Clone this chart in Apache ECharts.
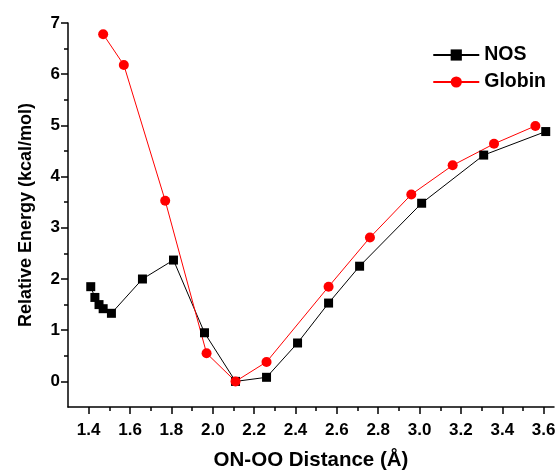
<!DOCTYPE html>
<html>
<head>
<meta charset="utf-8">
<script src="https://cdn.jsdelivr.net/npm/echarts@6/dist/echarts.min.js"></script>
<style>
  html, body { margin: 0; padding: 0; background: #fff; }
  #chart { width: 560px; height: 473px; }
</style>
</head>
<body>
<div id="chart"></div>
<script>
  // NOS (black squares)
  const nosX = [1.41, 1.43, 1.45, 1.47, 1.51, 1.66, 1.81, 1.96, 2.11, 2.26, 2.41, 2.56, 2.71, 3.01, 3.31, 3.61]
  const nosY = [1.85, 1.64, 1.50, 1.42, 1.33, 2.00, 2.37, 0.95, 0.00, 0.08, 0.75, 1.53, 2.25, 3.48, 4.42, 4.88]

  // Globin (red circles)
  const globinX = [1.47, 1.57, 1.77, 1.97, 2.11, 2.26, 2.56, 2.76, 2.96, 3.16, 3.36, 3.56]
  const globinY = [6.78, 6.18, 3.53, 0.55, 0.00, 0.38, 1.85, 2.81, 3.65, 4.22, 4.64, 4.99]

  // axis ticks
  const xTicks = [1.4, 1.6, 1.8, 2.0, 2.2, 2.4, 2.6, 2.8, 3.0, 3.2, 3.4, 3.6]
  const xMinorTicks = [1.5, 1.7, 1.9, 2.1, 2.3, 2.5, 2.7, 2.9, 3.1, 3.3, 3.5]
  const yTicks = [0, 1, 2, 3, 4, 5, 6, 7]
  const yMinorTicks = [0.5, 1.5, 2.5, 3.5, 4.5, 5.5, 6.5]

  const font = 'Liberation Sans, Arial, sans-serif'
  const zip = (xs, ys) => xs.map((x, i) => [x, ys[i]])

  // label font goes through rich text, styling axisLabel directly made the ticks vanish
  const tickFont = { fontFamily: font, fontWeight: 'bold', fontSize: 17, color: '#000' }

  function labelAxis(min, max, ticks, fmt, rich) {
    return {
      type: 'value', min: min, max: max,
      splitLine: { show: false },
      axisLine: { show: true, onZero: false, lineStyle: { color: '#000', width: 1.5 } },
      axisTick: { show: false },
      axisLabel: { customValues: ticks, formatter: v => '{t|' + fmt(v) + '}', rich: { t: rich } }
    }
  }
  // tick-only axis
  function tickAxis(min, max, ticks, len, pos) {
    return {
      type: 'value', min: min, max: max, position: pos,
      splitLine: { show: false },
      axisLine: { show: false, onZero: false },
      axisLabel: { show: false },
      axisTick: { show: true, customValues: ticks, length: len, lineStyle: { color: '#000', width: 1.5 } }
    }
  }

  const xMain = labelAxis(1.3, 3.65, xTicks, v => v.toFixed(1), { ...tickFont, lineHeight: 30 })
  xMain.name = 'ON-OO Distance (Å)'
  xMain.nameLocation = 'middle'
  xMain.nameGap = 43
  xMain.nameTextStyle = { fontFamily: font, fontWeight: 'bold', fontSize: 20.5, color: '#000' }

  const yMain = labelAxis(-0.5, 7, yTicks, v => String(v), { ...tickFont })
  yMain.name = 'Relative Energy (kcal/mol)'
  yMain.nameLocation = 'middle'
  yMain.nameGap = 33
  yMain.nameTextStyle = { fontFamily: font, fontWeight: 'bold', fontSize: 18, color: '#000' }

  const chart = echarts.init(document.getElementById('chart'))
  chart.setOption({
    animation: false,
    grid: { left: 68, right: 6, top: 23, bottom: 66, outerBoundsMode: 'none' },
    legend: {
      orient: 'vertical',
      right: 9,
      top: 40,
      itemWidth: 46,
      itemHeight: 14,
      itemGap: 7,
      textStyle: { fontFamily: font, fontWeight: 'bold', fontSize: 19.5, lineHeight: 20, color: '#000' },
      data: ['NOS', 'Globin']
    },
    xAxis: [
      xMain,
      tickAxis(1.3, 3.65, xTicks, 7, 'bottom'),
      tickAxis(1.3, 3.65, xMinorTicks, 4, 'bottom')
    ],
    yAxis: [
      yMain,
      tickAxis(-0.5, 7, yTicks, 7, 'left'),
      tickAxis(-0.5, 7, yMinorTicks, 4, 'left')
    ],
    series: [
      {
        name: 'NOS',
        type: 'line',
        data: zip(nosX, nosY),
        symbol: 'rect',
        symbolSize: 9,
        color: '#000',
        lineStyle: { width: 1, color: '#000' },
        itemStyle: { color: '#000' }
      },
      {
        name: 'Globin',
        type: 'line',
        data: zip(globinX, globinY),
        symbol: 'circle',
        symbolSize: 10,
        color: '#ff0000',
        lineStyle: { width: 1, color: '#ff0000' },
        itemStyle: { color: '#ff0000' }
      }
    ]
  })
</script>
</body>
</html>
